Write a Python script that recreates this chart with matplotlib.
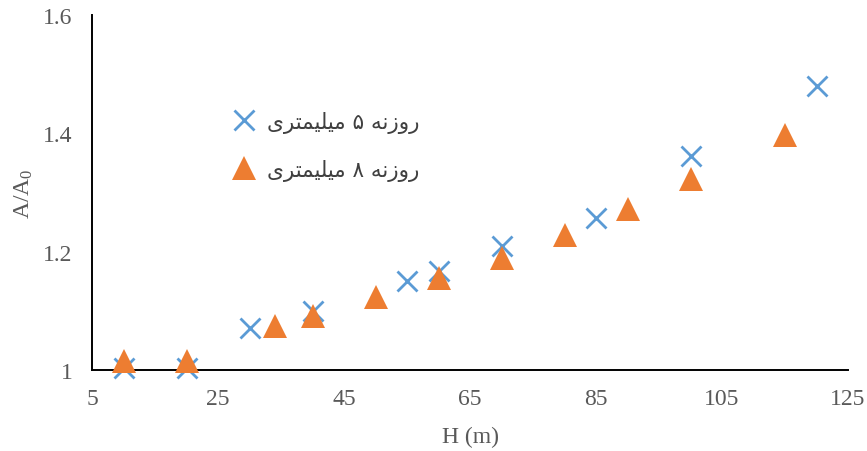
import matplotlib
matplotlib.use("Agg")
import matplotlib.pyplot as plt
from matplotlib.lines import Line2D

# series 1: 5 mm orifice
h_5mm = [10, 20, 30, 40, 55, 60, 70, 85, 100, 120]
ratio_5mm = [1.004, 1.004, 1.071, 1.099, 1.150, 1.168, 1.209, 1.257, 1.362, 1.480]

# series 2: 8 mm orifice
h_8mm = [10, 20, 34, 40, 50, 60, 70, 80, 90, 100, 115]
ratio_8mm = [1.016, 1.016, 1.075, 1.092, 1.124, 1.155, 1.190, 1.229, 1.272, 1.322, 1.397]

series_names = ["روزنه ۵ میلیمتری", "روزنه ۸ میلیمتری"]
x_ticks = [5, 25, 45, 65, 85, 105, 125]
y_ticks = [1.0, 1.2, 1.4, 1.6]
y_tick_labels = ["1", "1.2", "1.4", "1.6"]

# minimal Arabic-script shaping (matplotlib draws glyphs left to right, unjoined)
FORMS = {
    "ر": ("\uFEAD", "\uFEAE", None, None),
    "و": ("\uFEED", "\uFEEE", None, None),
    "ز": ("\uFEAF", "\uFEB0", None, None),
    "ن": ("\uFEE5", "\uFEE6", "\uFEE7", "\uFEE8"),
    "ه": ("\uFEE9", "\uFEEA", "\uFEEB", "\uFEEC"),
    "م": ("\uFEE1", "\uFEE2", "\uFEE3", "\uFEE4"),
    "ی": ("\uFEEF", "\uFEF0", "\uFEF3", "\uFEF4"),
    "ل": ("\uFEDD", "\uFEDE", "\uFEDF", "\uFEE0"),
    "ت": ("\uFE95", "\uFE96", "\uFE97", "\uFE98"),
}


def shape_rtl(text):
    out = []
    for i, ch in enumerate(text):
        if ch not in FORMS:
            out.append(ch)
            continue
        prev = text[i - 1] if i > 0 else ""
        nxt = text[i + 1] if i + 1 < len(text) else ""
        joins_prev = prev in FORMS and FORMS[prev][2] is not None
        joins_next = nxt in FORMS and FORMS[ch][2] is not None
        iso, fin, ini, med = FORMS[ch]
        if joins_prev and joins_next:
            out.append(med)
        elif joins_prev:
            out.append(fin)
        elif joins_next:
            out.append(ini)
        else:
            out.append(iso)
    return "".join(reversed(out))


blue = "#5B9BD5"
orange = "#ED7D31"
grey = "#595959"

plt.rcParams["mathtext.default"] = "regular"

fig = plt.figure(figsize=(8.67, 4.52), dpi=100)
ax = fig.add_axes([92 / 867, 1 - 371 / 452, 756 / 867, 355 / 452])

ax.plot(h_5mm, ratio_5mm, linestyle="none", marker="x", markersize=15,
        markeredgewidth=2, color=blue, clip_on=False, zorder=3)
ax.plot(h_8mm, ratio_8mm, linestyle="none", marker="^", markersize=17,
        color=orange, markeredgewidth=0, clip_on=False, zorder=4)

ax.set_xlim(5, 125)
ax.set_ylim(1, 1.6)
ax.set_xticks(x_ticks)
ax.set_yticks(y_ticks)
ax.set_yticklabels(y_tick_labels)

serif = "Liberation Serif"
for lab in ax.get_xticklabels() + ax.get_yticklabels():
    lab.set_fontfamily(serif)
    lab.set_fontsize(17)
    lab.set_color(grey)
ax.tick_params(axis="both", length=0)
ax.tick_params(axis="x", pad=13)
ax.tick_params(axis="y", pad=14)

for side in ("top", "right"):
    ax.spines[side].set_visible(False)
for side in ("left", "bottom"):
    ax.spines[side].set_color("black")
    ax.spines[side].set_linewidth(1.4)

ax.set_xlabel("H (m)", fontfamily=serif, fontsize=17, color=grey, labelpad=12)
ax.set_ylabel("A/A$_{0}$", fontfamily=serif, fontsize=17, color=grey, labelpad=6)

handles = [
    Line2D([], [], linestyle="none", marker="x", markersize=15, markeredgewidth=2, color=blue),
    Line2D([], [], linestyle="none", marker="^", markersize=17, markeredgewidth=0, color=orange),
]
leg = ax.legend(handles, [shape_rtl(s) for s in series_names],
                loc="upper left", bbox_to_anchor=(141 / 756, (371 - 112) / 355),
                frameon=False, handlelength=1.0, handletextpad=0.6,
                labelspacing=1.2, borderpad=0, borderaxespad=0,
                prop={"family": "DejaVu Sans", "size": 15.5})
for t in leg.get_texts():
    t.set_color("#404040")

fig.savefig("out.png", dpi=100)
